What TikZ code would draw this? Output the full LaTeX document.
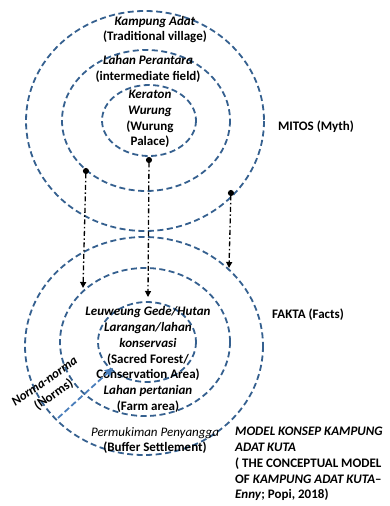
\documentclass[tikz,border=0pt]{standalone}
\usepackage{fontspec}
\setmainfont{Carlito}
\usepackage{tikz}
\usetikzlibrary{arrows.meta}
\usepackage{xcolor}
\definecolor{RingBlue}{HTML}{35608F}
\definecolor{NormBlue}{HTML}{4A7EBB}

\begin{document}
\begin{tikzpicture}[x=1pt, y=-1pt,
    every node/.style={font=\fontsize{13}{15.8}\selectfont\bfseries, align=center, inner sep=0pt},
    ring/.style={RingBlue, line width=1.8pt, dash pattern=on 6pt off 3.5pt},
    link/.style={black, line width=1.3pt, dash pattern=on 5pt off 2.5pt on 1.5pt off 2.5pt,
        {Circle[length=6pt]}-{Triangle[length=6pt, width=6pt]}},
    normarrow/.style={NormBlue, line width=1.8pt, dash pattern=on 6pt off 3pt,
        -{Triangle[length=8pt, width=8pt]}}
]
\useasboundingbox (0,0) rectangle (390,506);

% === TOP: Mitos (myth) rings ===
\draw[ring] (145,121) ellipse [x radius=119, y radius=110];
\draw[ring] (146,120.5) ellipse [x radius=84, y radius=70.5];
\draw[ring] (149,120.5) ellipse [x radius=47, y radius=35.5];

\node (kampung) at (155,29.5) {\textit{Kampung Adat}\\(Traditional village)};
\node (perantara) at (148,69) {\textit{Lahan Perantara}\\(intermediate field)};
\node (keraton) at (150,119) {\textit{Keraton}\\\textit{Wurung}\\(Wurung\\Palace)};
\node (mitos) at (316,127) {MITOS (Myth)};

% === BOTTOM: Fakta (facts) rings ===
\draw[ring] (144,346) ellipse [x radius=119, y radius=109];
\draw[ring] (145,342) ellipse [x radius=85, y radius=74];
\draw[ring] (147,342) ellipse [x radius=49, y radius=40];

\node (leuweung) at (148,359.5) {\textit{Leuweung Gede/Hutan}\\\textit{Larangan/lahan}\\\textit{konservasi}\\(Sacred Forest/\\Conservation Area)\\\textit{Lahan pertanian}\\(Farm area)};
\node (permukiman) at (155,440.5) {\mdseries\itshape Permukiman Penyangga\\\bfseries\upshape (Buffer Settlement)};
\node (fakta) at (308,315) {FAKTA (Facts)};

% Norms label and arrow
\node[rotate=35] (norma) at (49.5,388.5) {\textit{Norma-norma}\\(Norms)};
\coordinate (normfrom) at (58,418);
\coordinate (normto) at (113,368);
\draw[normarrow] (normfrom) -- (normto);

% Myth to fact links
\coordinate (leftdot) at (86,168);
\coordinate (lefttip) at (83,288);
\coordinate (middot) at (149,157);
\coordinate (midtip) at (148,297);
\coordinate (rightdot) at (231,190);
\coordinate (righttip) at (229,268);
\draw[link] (leftdot) -- (lefttip);
\draw[link] (middot) -- (midtip);
\draw[link] (rightdot) -- (righttip);

% Caption
\node[anchor=north west, align=left] (caption) at (235,427)
    {\textit{MODEL KONSEP KAMPUNG}\\\textit{ADAT KUTA}\\( THE CONCEPTUAL MODEL\\OF \textit{KAMPUNG ADAT KUTA}--\\\textit{Enny}; Popi, 2018)};

\end{tikzpicture}
\end{document}
